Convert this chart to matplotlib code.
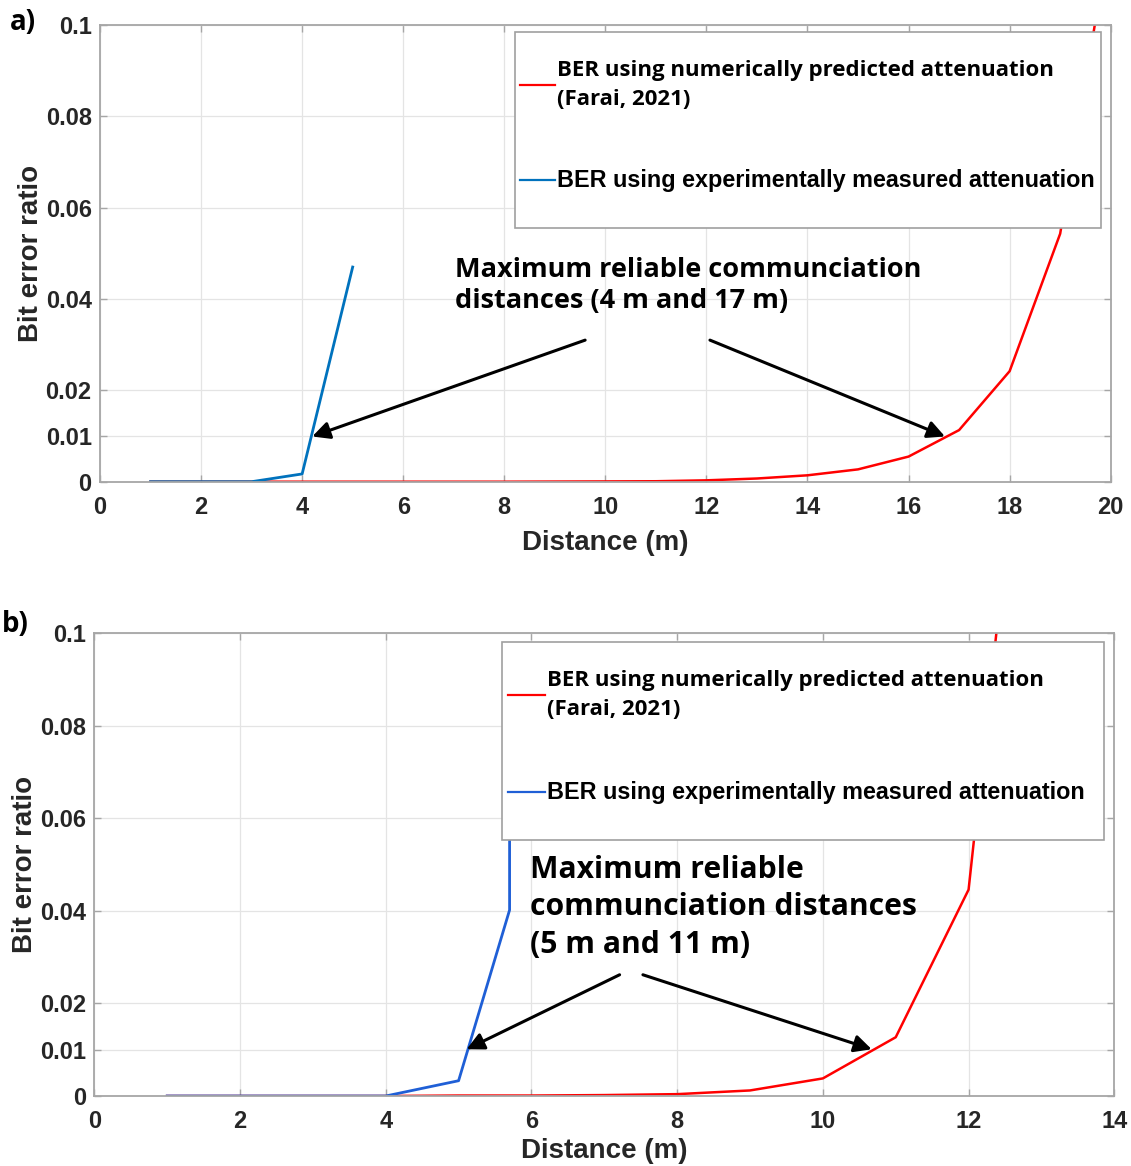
import matplotlib
matplotlib.use("Agg")
import matplotlib.pyplot as plt
from matplotlib.patches import Rectangle

ARIAL = ["Liberation Sans", "DejaVu Sans"]
CALIBRI = ["Open Sans", "DejaVu Sans"]
TICK_COL = "#262626"
RED = "#ff0000"
W, H = 1131, 1166

# panel a)
dist_a_red = list(range(1, 21))
ber_a_red = [0, 0, 0, 0, 0, 0, 0, 0, 0.00003, 0.00006, 0.0001, 0.0003, 0.0007,
             0.0014, 0.0027, 0.0055, 0.0113, 0.0242, 0.0543, 0.121]
dist_a_blue = [1, 2, 3, 4, 5]
ber_a_blue = [0, 0, 0, 0.0017, 0.047]

# panel b)
dist_b_red = list(range(1, 14))
ber_b_red = [0, 0, 0, 0, 0.0001, 0.0001, 0.0002, 0.0004, 0.0012, 0.0038,
             0.0127, 0.0446, 0.19]
dist_b_blue = [1, 2, 3, 4, 5, 5.7, 5.7]
ber_b_blue = [0, 0, 0, 0, 0.0033, 0.0402, 0.07]

yticks = [0, 0.01, 0.02, 0.04, 0.06, 0.08, 0.1]
ytick_labels = ["0", "0.01", "0.02", "0.04", "0.06", "0.08", "0.1"]

label_red = "BER using numerically predicted attenuation\n(Farai, 2021)"
label_blue = "BER using experimentally measured attenuation"


def style_axes(ax, xmax, xstep, xlabelpad):
    ax.set_xlim(0, xmax)
    ax.set_ylim(0, 0.1)
    ax.set_xticks(range(0, xmax + 1, xstep))
    ax.set_yticks(yticks)
    ax.set_yticklabels(ytick_labels)
    ax.grid(True, color="#e4e4e4", linewidth=0.9)
    ax.set_axisbelow(True)
    for s in ax.spines.values():
        s.set_color("#a6a6a6")
        s.set_linewidth(1.3)
    ax.tick_params(direction="in", length=5, width=1, color="#a6a6a6",
                   top=True, right=True, labelcolor=TICK_COL)
    ax.tick_params(axis="x", pad=10)
    ax.tick_params(axis="y", pad=6)
    for t in ax.get_xticklabels() + ax.get_yticklabels():
        t.set_fontfamily(ARIAL)
        t.set_fontweight("bold")
        t.set_fontsize(17)
    ax.set_xlabel("Distance (m)", fontfamily=ARIAL, fontweight="bold",
                  fontsize=20, color=TICK_COL, labelpad=xlabelpad)
    ax.set_ylabel("Bit error ratio", fontfamily=ARIAL, fontweight="bold",
                  fontsize=20, color=TICK_COL, labelpad=1)


def add_legend(ax, box, blue, frame, red_y, blue_y, hx0, hx1, tx):
    # box = axes pixel box (left, top, width, height); others in pixels
    l, t, w, h = box

    def p(x, y):
        return (x - l) / w, (t + h - y) / h

    x0, y0 = p(frame[0], frame[3])
    x1, y1 = p(frame[2], frame[1])
    ax.add_patch(Rectangle((x0, y0), x1 - x0, y1 - y0, transform=ax.transAxes,
                           facecolor="white", edgecolor="#a0a0a0", lw=1.2,
                           zorder=5, clip_on=False))
    for color, y, label, fam, size in [(RED, red_y, label_red, CALIBRI, 16.0),
                                       (blue, blue_y, label_blue, ARIAL, 16.8)]:
        a, yy = p(hx0, y)
        b, _ = p(hx1, y)
        ax.plot([a, b], [yy, yy], color=color, lw=1.6, transform=ax.transAxes,
                zorder=6, clip_on=False)
        c, _ = p(tx, y)
        ax.text(c, yy, label, transform=ax.transAxes, ha="left", va="center",
                fontfamily=fam, fontweight="bold", fontsize=size, zorder=6,
                linespacing=1.5)


def arrow(ax, start, end):
    ax.annotate("", xy=end, xytext=start,
                arrowprops=dict(arrowstyle="-|>", lw=2.2, color="black",
                                mutation_scale=26, shrinkA=0, shrinkB=0))


fig = plt.figure(figsize=(W / 100, H / 100), dpi=100)

# ---- a)
box_a = (100, 25, 1010.7, 456.7)
ax = fig.add_axes([box_a[0] / W, 1 - (box_a[1] + box_a[3]) / H, box_a[2] / W, box_a[3] / H])
ax.plot(dist_a_red, ber_a_red, color=RED, lw=1.8)
ax.plot(dist_a_blue, ber_a_blue, color="#0072BD", lw=2.0)
style_axes(ax, 20, 2, 8)
add_legend(ax, box_a, "#0072BD", (515, 32, 1101, 228), 85, 180, 520, 555, 557)
ax.text(7.02, 0.0430, "Maximum reliable communciation\ndistances (4 m and 17 m)",
        ha="left", va="center", fontsize=19.5, fontweight="bold",
        fontfamily=CALIBRI, linespacing=1.25)
arrow(ax, (9.6, 0.031), (4.2, 0.0099))
arrow(ax, (12.07, 0.031), (16.72, 0.0099))
fig.text(10 / W, 1 - 22 / H, "a)", fontsize=20, fontweight="bold",
         fontfamily=CALIBRI, va="center", ha="left")

# ---- b)
box_b = (94.3, 633.3, 1020, 462.7)
ax = fig.add_axes([box_b[0] / W, 1 - (box_b[1] + box_b[3]) / H, box_b[2] / W, box_b[3] / H])
ax.plot(dist_b_red, ber_b_red, color=RED, lw=1.8)
ax.plot(dist_b_blue, ber_b_blue, color="#1f5fd6", lw=2.0)
style_axes(ax, 14, 2, 4)
add_legend(ax, box_b, "#1f5fd6", (502, 642, 1104, 840), 695, 792, 508, 545, 547)
ax.text(5.98, 0.0408, "Maximum reliable\ncommunciation distances\n(5 m and 11 m)",
        ha="left", va="center", fontsize=21.7, fontweight="bold",
        fontfamily=CALIBRI, linespacing=1.33)
arrow(ax, (7.21, 0.0262), (5.11, 0.0101))
arrow(ax, (7.53, 0.0262), (10.67, 0.0101))
fig.text(2 / W, 1 - 625 / H, "b)", fontsize=20, fontweight="bold",
         fontfamily=CALIBRI, va="center", ha="left")

fig.savefig("out.png", dpi=100, facecolor="white")
